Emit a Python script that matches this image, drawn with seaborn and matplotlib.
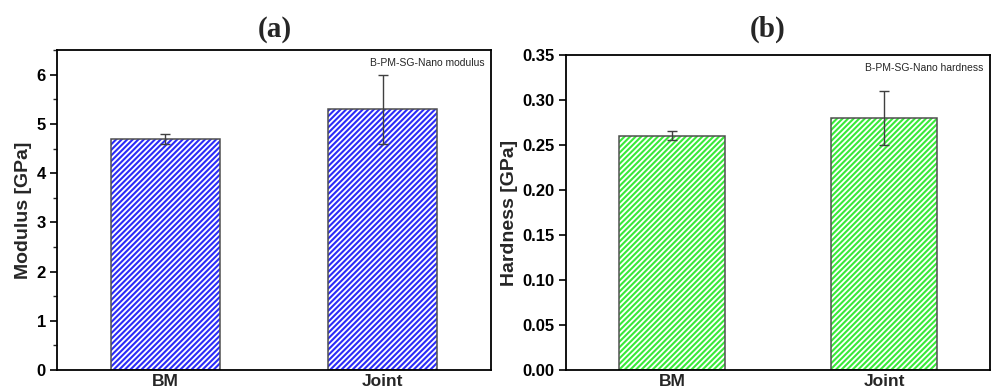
import matplotlib
matplotlib.use("Agg")
import matplotlib.pyplot as plt
import seaborn as sns
import pandas as pd
from matplotlib.ticker import MultipleLocator

sns.set_theme(style="white")
plt.rcParams["font.family"] = ["Liberation Sans", "DejaVu Sans"]
plt.rcParams["hatch.linewidth"] = 1.5

# Sample groups
groups = ["BM", "Joint"]

# Nanoindentation modulus (GPa)
modulus_mean = [4.7, 5.3]
modulus_err = [0.1, 0.7]

# Nanoindentation hardness (GPa)
hardness_mean = [0.26, 0.28]
hardness_err = [0.005, 0.03]

modulus_ticks = [0, 1, 2, 3, 4, 5, 6]
hardness_ticks = [0.00, 0.05, 0.10, 0.15, 0.20, 0.25, 0.30, 0.35]

fig = plt.figure(figsize=(9.91, 3.92), dpi=100)
ax_a = fig.add_axes([0.0575, 0.056, 0.438, 0.816])
ax_b = fig.add_axes([0.571, 0.056, 0.428, 0.804])


def hatched_bars(ax, means, errs, hatch_color, label, ylabel, ylim, ticks, fmt, minor):
    df = pd.DataFrame({"group": groups, "value": means})
    # hatched fill
    sns.barplot(data=df, x="group", y="value", ax=ax, color="white",
                edgecolor=hatch_color, linewidth=0.01, width=0.5, errorbar=None)
    for p in ax.patches:
        p.set_hatch("//////")
        p.set_edgecolor(hatch_color)
        p.set_facecolor("white")
    # dark outline on top
    sns.barplot(data=df, x="group", y="value", ax=ax, fill=False,
                edgecolor="#505050", linewidth=1.1, width=0.5, errorbar=None)
    centers = [p.get_x() + p.get_width() / 2 for p in ax.patches[:len(groups)]]
    ax.errorbar(centers, means, yerr=errs, fmt="none", ecolor="#404040",
                elinewidth=1.0, capsize=3.5, capthick=1.0, zorder=5)

    ax.set_xlim(-0.5, 1.5)
    ax.set_ylim(*ylim)
    ax.set_yticks(ticks)
    ax.set_yticklabels([fmt.format(t) for t in ticks], fontsize=12, fontweight="bold")
    if minor:
        ax.yaxis.set_minor_locator(MultipleLocator(minor))
    ax.tick_params(axis="y", which="major", direction="out", length=5, width=1.2,
                   left=True, pad=3, colors="black")
    ax.tick_params(axis="y", which="minor", direction="out", length=3, width=1.0, left=True)
    ax.tick_params(axis="x", length=0, pad=3)
    for t in ax.get_xticklabels():
        t.set_fontsize(12.5)
        t.set_fontweight("bold")
    ax.set_xlabel("")
    ax.set_ylabel(ylabel, fontsize=14, fontweight="bold", labelpad=3)
    for s in ax.spines.values():
        s.set_visible(True)
        s.set_color("black")
        s.set_linewidth(1.3)
    ax.text(0.985, 0.975, label, transform=ax.transAxes, ha="right", va="top",
            fontsize=7.5)


hatched_bars(ax_a, modulus_mean, modulus_err, "#2b2bf8", "B-PM-SG-Nano modulus",
             "Modulus [GPa]", (0, 6.5), modulus_ticks, "{:g}", 0.5)
hatched_bars(ax_b, hardness_mean, hardness_err, "#38ea38", "B-PM-SG-Nano hardness",
             "Hardness [GPa]", (0, 0.35), hardness_ticks, "{:.2f}", None)

fig.text(0.277, 0.925, "(a)", ha="center", va="center", fontsize=21,
         fontweight="bold", family="Liberation Serif")
fig.text(0.775, 0.925, "(b)", ha="center", va="center", fontsize=21,
         fontweight="bold", family="Liberation Serif")

fig.savefig("out.png", dpi=100)
